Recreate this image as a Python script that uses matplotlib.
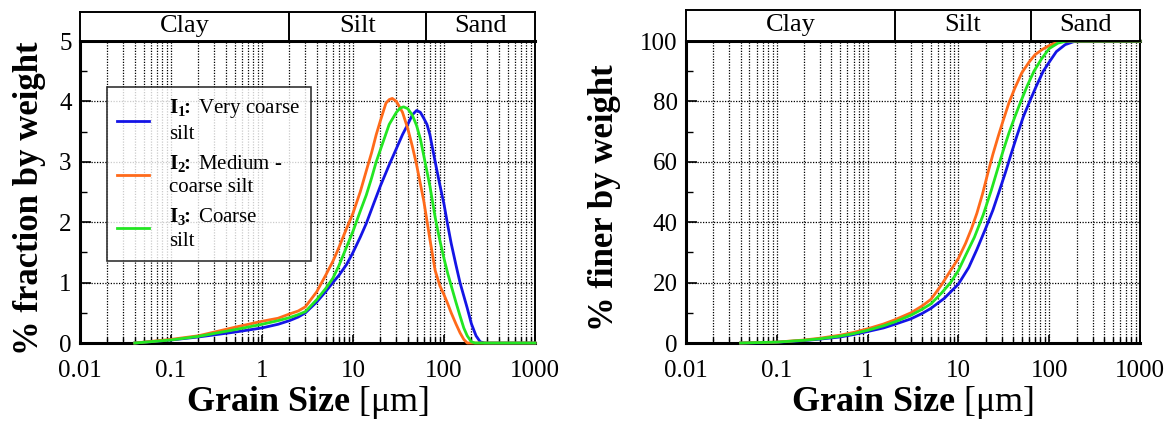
import matplotlib
matplotlib.use("Agg")
import matplotlib.pyplot as plt
from matplotlib.ticker import LogLocator, MultipleLocator, FuncFormatter, NullFormatter

plt.rcParams["font.family"] = ["Liberation Serif", "DejaVu Serif"]
plt.rcParams["mathtext.fontset"] = "custom"
plt.rcParams["mathtext.rm"] = "Liberation Serif"
plt.rcParams["mathtext.it"] = "Liberation Serif:italic"
plt.rcParams["mathtext.bf"] = "Liberation Serif:bold"

# ---- data ----
LABELS = [r"$\mathbf{I_1}\!\!\mathbf{:}$ Very coarse" + "\nsilt",
          r"$\mathbf{I_2}\!\!\mathbf{:}$ Medium -" + "\ncoarse silt",
          r"$\mathbf{I_3}\!\!\mathbf{:}$ Coarse" + "\nsilt"]
COLORS = ["#1414e6", "#ff6a1a", "#22e622"]

# frequency curves (% fraction by weight)
freq_x1 = [0.04, 0.1, 0.2, 0.5, 1, 1.5, 2, 2.5, 3, 4, 5, 6, 7, 8.5, 10, 12, 14, 17, 20,
           25, 30, 35, 40, 45, 50, 55, 60, 65, 70, 80, 90, 100, 110, 120, 135, 150, 165,
           180, 200, 225, 250, 280, 1000]
freq_y1 = [0, 0.05, 0.1, 0.18, 0.25, 0.31, 0.37, 0.43, 0.5, 0.68, 0.85, 1.0, 1.12, 1.3,
           1.5, 1.75, 1.98, 2.32, 2.6, 2.95, 3.22, 3.45, 3.62, 3.78, 3.85, 3.82, 3.72,
           3.62, 3.45, 3.0, 2.62, 2.3, 1.95, 1.65, 1.3, 1.0, 0.78, 0.58, 0.32, 0.12, 0.02,
           0, 0]
freq_x2 = [0.04, 0.1, 0.2, 0.5, 1, 1.5, 2, 2.5, 3, 4, 5, 6, 7, 8, 10, 12, 14, 16, 18, 20,
           23, 25, 27, 30, 35, 40, 45, 50, 60, 70, 80, 90, 100, 110, 120, 135, 150, 165,
           180, 1000]
freq_y2 = [0, 0.06, 0.12, 0.26, 0.36, 0.41, 0.48, 0.53, 0.6, 0.85, 1.12, 1.35, 1.58, 1.8,
           2.15, 2.5, 2.85, 3.15, 3.45, 3.68, 3.97, 4.03, 4.05, 4.0, 3.82, 3.55, 3.25,
           2.95, 2.35, 1.72, 1.2, 0.95, 0.8, 0.65, 0.5, 0.32, 0.17, 0.06, 0, 0]
freq_x3 = [0.04, 0.1, 0.2, 0.5, 1, 1.5, 2, 2.5, 3, 4, 5, 6, 7, 8.5, 10, 12, 14, 16, 18,
           20, 25, 30, 33, 36, 40, 45, 50, 55, 60, 70, 80, 90, 100, 110, 120, 135, 150,
           165, 180, 200, 220, 1000]
freq_y3 = [0, 0.05, 0.11, 0.22, 0.31, 0.37, 0.42, 0.47, 0.52, 0.72, 0.9, 1.07, 1.28, 1.59,
           1.85, 2.18, 2.45, 2.73, 3.0, 3.2, 3.62, 3.82, 3.89, 3.91, 3.88, 3.77, 3.6, 3.38,
           3.1, 2.6, 2.08, 1.7, 1.4, 1.15, 0.95, 0.68, 0.45, 0.25, 0.12, 0.02, 0, 0]

# cumulative curves (% finer by weight)
cum_x1 = [0.04, 0.07, 0.1, 0.2, 0.3, 0.5, 0.7, 1, 1.5, 2, 3, 4, 5, 7, 10, 13, 16, 20,
          24, 28, 33, 38, 44, 52, 62, 72, 86, 100, 120, 150, 195, 1000]
cum_y1 = [0, 0.1, 0.25, 0.8, 1.3, 2.0, 2.8, 3.8, 5.0, 6.2, 8, 9.8, 11.5, 14.8, 19.5, 25,
          31, 38, 44, 50, 56.5, 62.5, 68.5, 75, 80.5, 85, 90, 93, 96.5, 98.8, 100, 100]
cum_x2 = [0.04, 0.1, 0.2, 0.3, 0.5, 0.7, 1, 1.5, 2, 3, 4, 5, 6.5, 8, 10, 12, 14, 16,
          18.5, 21, 24, 27.5, 31, 36, 42, 50, 60, 70, 85, 100, 120, 140, 1000]
cum_y2 = [0, 0.3, 1.0, 1.6, 2.6, 3.5, 4.7, 6.3, 7.7, 10, 12.3, 14.5, 19.2, 23.5, 28, 33,
          38, 43, 49.5, 56, 62.5, 68.5, 73.5, 79.5, 84.5, 89.5, 93, 95.5, 97.3, 98.5,
          99.5, 100, 100]
cum_x3 = [0.04, 0.1, 0.2, 0.3, 0.5, 0.7, 1, 1.5, 2, 3, 4, 5, 6.5, 8.2, 10, 12, 15, 18.8,
          23, 27, 31, 36, 42, 48, 57, 68, 82, 100, 125, 155, 1000]
cum_y3 = [0, 0.3, 0.9, 1.4, 2.3, 3.1, 4.2, 5.7, 7, 9.2, 11.2, 13, 16.5, 20, 24, 29, 35,
          42.5, 50.5, 57.5, 63.5, 69.5, 75, 79.5, 85, 90, 94, 97.5, 99.3, 100, 100]

CLASS_EDGES = [0.01, 2, 63, 1000]
CLASS_NAMES = ["Clay", "Silt", "Sand"]

GRID_STYLE = dict(color="black", linestyle=(0, (1, 1.2)), lw=0.9)


def fmt_x(v, pos):
    return f"{v:g}"


def style_axes(ax, ymax, ymajor, yminor, ylabel, ylab_x):
    ax.set_xscale("log")
    ax.set_xlim(0.01, 1000)
    ax.set_ylim(0, ymax)
    ax.xaxis.set_major_locator(LogLocator(base=10, numticks=10))
    ax.xaxis.set_minor_locator(LogLocator(base=10, subs=range(2, 10), numticks=20))
    ax.xaxis.set_major_formatter(FuncFormatter(fmt_x))
    ax.xaxis.set_minor_formatter(NullFormatter())
    ax.yaxis.set_major_locator(MultipleLocator(ymajor))
    ax.yaxis.set_minor_locator(MultipleLocator(yminor))
    ax.tick_params(which="both", direction="in", top=False, right=False, labelsize=18)
    ax.tick_params(axis="x", which="major", length=6, width=1.2, pad=12)
    ax.tick_params(axis="x", which="minor", length=4, width=1.0)
    ax.tick_params(axis="y", which="major", length=8, width=1.2, pad=6)
    ax.tick_params(axis="y", which="minor", length=5, width=1.0)
    ax.grid(True, axis="x", which="both", **GRID_STYLE)
    ax.grid(True, axis="y", which="major", **GRID_STYLE)
    ax.set_axisbelow(True)
    for side in ["left", "bottom", "top"]:
        ax.spines[side].set_linewidth(2.2)
    ax.spines["right"].set_linewidth(1.4)
    ax.set_xlabel(r"$\mathbf{Grain\ Size}$ [μm]", fontsize=26)
    ax.xaxis.set_label_coords(0.5, -0.135)
    ax.set_ylabel(ylabel, fontsize=25, fontweight="bold")
    ax.yaxis.set_label_coords(ylab_x, 0.48)


def header(fig, rect):
    hx = fig.add_axes(rect)
    hx.set_xscale("log")
    hx.set_xlim(0.01, 1000)
    hx.set_ylim(0, 1)
    hx.set_xticks([])
    hx.set_yticks([])
    hx.minorticks_off()
    for s in hx.spines.values():
        s.set_linewidth(1.4)
    for edge in CLASS_EDGES[1:-1]:
        hx.axvline(edge, color="black", lw=1.4)
    for i, name in enumerate(CLASS_NAMES):
        lo, hi = CLASS_EDGES[i], CLASS_EDGES[i + 1]
        hx.text((lo * hi) ** 0.5, 0.5, name, ha="center", va="center", fontsize=19)
    return hx


fig = plt.figure(figsize=(11.75, 4.26), dpi=100)

ax1 = fig.add_axes([0.0681, 0.1948, 0.3872, 0.7089])
header(fig, [0.0681, 0.9038, 0.3872, 0.0681])
ax2 = fig.add_axes([0.5838, 0.1948, 0.3864, 0.7089])
header(fig, [0.5838, 0.9038, 0.3864, 0.0728])

style_axes(ax1, 5, 1, 0.5, "% fraction by weight", -0.075)
style_axes(ax2, 100, 20, 10, "% finer by weight", -0.142)

freq = [(freq_x1, freq_y1), (freq_x2, freq_y2), (freq_x3, freq_y3)]
cum = [(cum_x1, cum_y1), (cum_x2, cum_y2), (cum_x3, cum_y3)]

for (x, y), c, lab in zip(freq, COLORS, LABELS):
    ax1.plot(x, y, color=c, lw=2.0, label=lab, clip_on=False, zorder=3)
for (x, y), c in zip(cum, COLORS):
    ax2.plot(x, y, color=c, lw=2.0, clip_on=False, zorder=3)

leg = ax1.legend(loc="upper left", bbox_to_anchor=(0.059, 0.848), borderaxespad=0,
                 fontsize=15, frameon=True, fancybox=False, edgecolor="black",
                 handlelength=1.5, handletextpad=1.0, borderpad=0.5, labelspacing=0.4)
leg.get_frame().set_linewidth(1.2)
for t in leg.get_texts():
    t.set_linespacing(1.35)

fig.savefig("out.png", dpi=100)
